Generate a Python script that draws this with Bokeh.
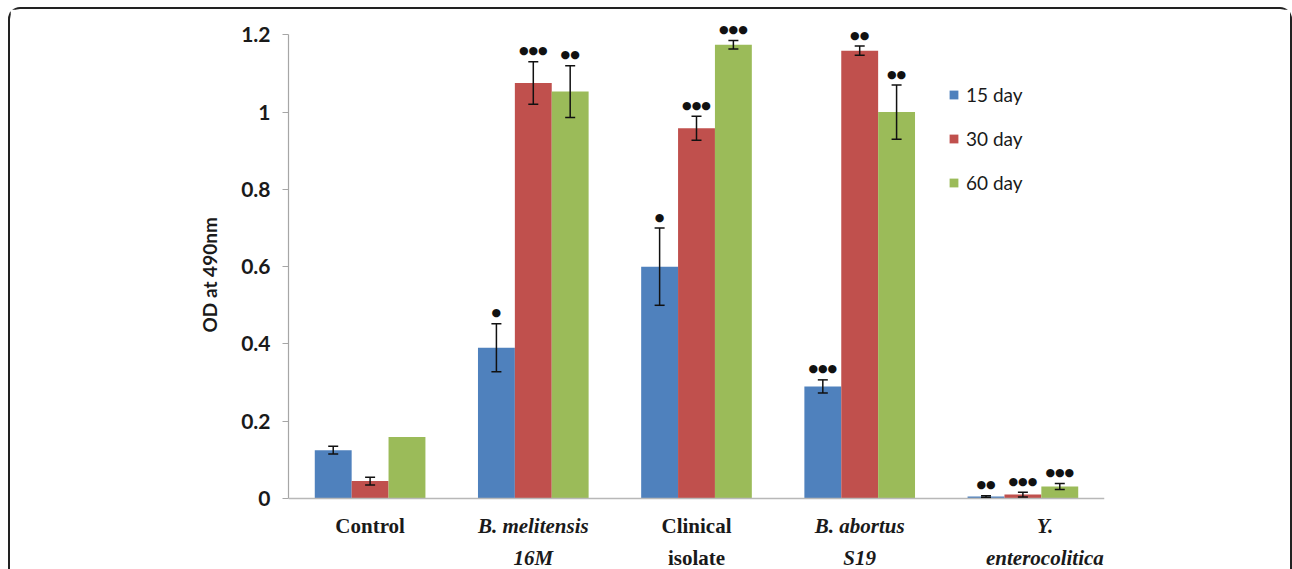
from bokeh.plotting import figure
from bokeh.models import (ColumnDataSource, Range1d, FixedTicker, Whisker, TeeHead,
                          Legend, LegendItem, Span, Title)
from bokeh.transform import dodge
from bokeh.core.properties import value
from bokeh.embed import file_html
from bokeh.resources import INLINE

# ---------------- data ----------------
cats = ["Control", "B. melitensis 16M", "Clinical isolate", "B. abortus S19", "Y. enterocolitica"]
cat_labels = ["Control", "B. melitensis\n16M", "Clinical\nisolate", "B. abortus\nS19", "Y.\nenterocolitica"]
cat_italic = [False, True, False, True, True]

series_names = ["15 day", "30 day", "60 day"]
v15 = [0.125, 0.390, 0.600, 0.290, 0.005]
e15 = [0.010, 0.062, 0.100, 0.017, 0.002]
v30 = [0.045, 1.075, 0.958, 1.159, 0.010]
e30 = [0.010, 0.055, 0.031, 0.012, 0.006]
v60 = [0.159, 1.053, 1.174, 1.000, 0.031]
e60 = [0.000, 0.067, 0.011, 0.070, 0.008]
sig15 = ["", "●", "●", "●●●", "●●"]
sig30 = ["", "●●●", "●●●", "●●", "●●●"]
sig60 = ["", "●●", "●●●", "●●", "●●●"]

y_title = "OD at 490nm"
y_ticks = [0, 0.2, 0.4, 0.6, 0.8, 1.0, 1.2]
y_tick_labels = ["0", "0.2", "0.4", "0.6", "0.8", "1", "1.2"]

# ---------------- styling ----------------
colors = ["#4f81bd", "#c0504d", "#9bbb59"]
offsets = [-0.226, 0.0, 0.226]
bar_w = 0.226
ink = "#1a1a1a"

# frame runs below zero to the canvas bottom so the category texts can be drawn there
p = figure(x_range=cats, y_range=Range1d(-0.189, 1.25), width=1284, height=562,
           output_backend="svg", toolbar_location=None,
           min_border_left=278, min_border_right=190, min_border_top=6, min_border_bottom=0)
p.outline_line_color = None
p.grid.visible = False
p.background_fill_color = "white"
p.border_fill_color = "white"
p.styles = {"margin-left": "8px", "margin-top": "7px",
            "border-top": "2px solid #222", "border-left": "2px solid #222",
            "border-right": "2px solid #222", "border-top-left-radius": "12px",
            "border-top-right-radius": "12px"}

# y axis
ya = p.yaxis[0]
ya.ticker = FixedTicker(ticks=y_ticks)
ya.major_label_overrides = {t: l for t, l in zip(y_ticks, y_tick_labels)}
ya.bounds = (0, 1.2)
ya.minor_tick_line_color = None
ya.major_tick_in = 0
ya.major_tick_out = 6
ya.major_tick_line_color = "#a6a6a6"
ya.axis_line_color = "#a6a6a6"
ya.axis_line_width = 1.2
ya.major_label_text_font = "Lato"
ya.major_label_text_font_style = "bold"
ya.major_label_text_font_size = "21px"
ya.major_label_text_color = ink
ya.major_label_standoff = 12

# y axis title as a left-side Title, placed from the frame bottom upwards
p.add_layout(Title(text=y_title, align="left", offset=239, standoff=35,
                   text_font="Lato", text_font_style="bold", text_font_size="19px",
                   text_color=ink), "left")

# x axis: hidden, baseline drawn as a span at y = 0
p.xaxis.visible = False
p.add_layout(Span(location=0, dimension="width", line_color="#b8b8b8", line_width=1.5))

vals = [v15, v30, v60]
errs = [e15, e30, e60]
sigs = [sig15, sig30, sig60]
items = []
for name, v, e, s, c, off in zip(series_names, vals, errs, sigs, colors, offsets):
    src = ColumnDataSource(dict(cat=cats, val=v,
                                up=[a + b for a, b in zip(v, e)],
                                sig=s))
    r = p.vbar(x=dodge("cat", off, range=p.x_range), top="val", width=bar_w,
               source=src, fill_color=c, line_color=None)
    items.append(LegendItem(label=name, renderers=[r]))
    idx = [i for i, ee in enumerate(e) if ee > 0]
    wsrc = ColumnDataSource(dict(cat=[cats[i] for i in idx],
                                 lo=[v[i] - e[i] for i in idx],
                                 up=[v[i] + e[i] for i in idx]))
    w = Whisker(source=wsrc, base=dodge("cat", off, range=p.x_range), lower="lo", upper="up",
                dimension="height", line_color="#111111", line_width=1.5, level="annotation",
                upper_head=TeeHead(size=10, line_color="#111111", line_width=1.5),
                lower_head=TeeHead(size=10, line_color="#111111", line_width=1.5))
    p.add_layout(w)
    p.text(x=dodge("cat", off, range=p.x_range), y="up", text="sig", source=src,
           text_align="center", text_baseline="middle", y_offset=-11,
           text_font=value("DejaVu Sans"), text_font_size="11px", text_color="#111111")

legend = Legend(items=items, location=(660, 377), orientation="vertical",
                padding=0, margin=0, spacing=21, glyph_width=11, glyph_height=11,
                label_height=22, label_standoff=7, label_text_font="Lato",
                label_text_font_size="19px", label_text_color=ink,
                border_line_color=None, background_fill_color=None)
p.add_layout(legend)

# category labels below the baseline (two lines, italic for species names)
label_nudge = {4: 22}
lab_src = ColumnDataSource(dict(
    cat=cats, text=cat_labels, y=[0] * len(cats),
    style=["bold italic" if it else "bold" for it in cat_italic],
    dx=[label_nudge.get(i, 0) for i in range(len(cats))]))
p.text(x="cat", y="y", text="text", source=lab_src, x_offset="dx", y_offset=16,
       text_align="center", text_baseline="top", text_font=value("Liberation Serif"),
       text_font_style="style", text_font_size="21px", text_line_height=1.33,
       text_color=ink)

open("out.html", "w").write(file_html(p, INLINE))
